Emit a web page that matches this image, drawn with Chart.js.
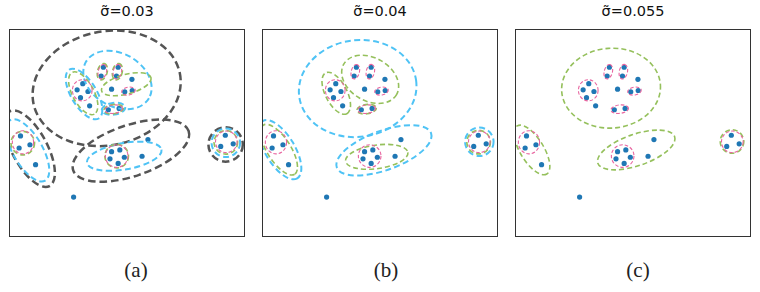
<!DOCTYPE html>
<html>
<head>
<meta charset="utf-8">
<script src="https://cdn.jsdelivr.net/npm/chart.js@4"></script>
<style>
  body { margin: 0; width: 760px; height: 292px; background: #fff; position: relative; overflow: hidden; }
  canvas { position: absolute; top: 25px; }
  .title { position: absolute; top: 3px; width: 240px; text-align: center; font-family: "DejaVu Sans"; font-size: 14.5px; line-height: 17px; color: #111; }
  .cap { position: absolute; top: 258px; width: 80px; text-align: center; font-family: "Liberation Serif"; font-size: 21px; line-height: 24px; color: #222; }
</style>
</head>
<body>
<canvas id="p0" width="244" height="216" style="left:5px"></canvas>
<canvas id="p1" width="244" height="216" style="left:258px"></canvas>
<canvas id="p2" width="244" height="216" style="left:511px"></canvas>
<div class="title" style="left:7px" id="t0"></div>
<div class="title" style="left:260px" id="t1"></div>
<div class="title" style="left:513px" id="t2"></div>
<div class="cap" style="left:96px" id="c0"></div>
<div class="cap" style="left:346px" id="c1"></div>
<div class="cap" style="left:598px" id="c2"></div>
<script>
// the same points in every panel
var pointsX = [9.6, 9.37, 11.1, 10.93, 12.5, 10.43, 11.77, 12.53, 10.1, 11.2,
               7.5, 6.93, 8.03, 7.27, 8.2, 1.17, 1.03, 2.13, 2.7,
               10.43, 11.27, 10.27, 11.73, 11.1, 13.53, 14.13, 22.0, 21.53, 22.8, 6.57];
var pointsY = [17.3, 16.4, 17.3, 16.4, 16.07, 15.07, 14.8, 14.93, 12.97, 13.1,
               15.63, 15.0, 14.83, 14.2, 13.37, 10.3, 9.07, 9.4, 7.37,
               8.7, 8.87, 7.97, 8.13, 7.5, 8.23, 9.93, 10.37, 9.23, 9.5, 4.07];

var sigmas = ['0.03', '0.04', '0.055'];
var captions = ['(a)', '(b)', '(c)'];

// ellipses: [cx, cy, semi-axis a, semi-axis b, angle deg]
var pinkAll = [
  [7.45, 14.95, 1.0, 1.08, 0],
  [9.49, 16.85, 0.75, 0.42, 76],
  [11.02, 16.85, 0.75, 0.42, 78],
  [12.15, 14.87, 0.7, 0.4, 10],
  [10.65, 13.03, 0.9, 0.43, 7],
  [1.42, 9.65, 1.08, 1.18, 0],
  [10.95, 8.25, 1.15, 1.15, 0],
  [22.1, 9.7, 1.1, 1.1, 0]
];
var greenA = [
  [9.49, 16.85, 0.85, 0.5, 76],
  [11.02, 16.85, 0.85, 0.5, 78],
  [7.55, 14.65, 2.4, 1.1, -62],
  [11.93, 15.57, 2.6, 1.0, 15],
  [10.63, 13.03, 1.0, 0.47, 8],
  [1.4, 9.57, 1.2, 1.2, 0],
  [10.95, 8.25, 1.2, 1.2, 0],
  [22.05, 9.65, 1.2, 1.2, 0]
];
var blueA = [
  [11.03, 16.0, 3.7, 2.7, -30],
  [7.63, 14.57, 2.9, 1.3, -59],
  [10.63, 13.07, 1.2, 0.6, 8],
  [1.9, 8.83, 3.55, 1.5, -60],
  [11.72, 8.23, 3.85, 1.35, 10],
  [22.05, 9.6, 1.45, 1.45, 0]
];
var grayA = [
  [9.93, 15.15, 7.6, 5.8, 12],
  [12.4, 8.8, 6.2, 2.6, 18.8],
  [2.1, 9.0, 4.3, 1.8, -62],
  [22.03, 9.43, 1.75, 1.75, 0]
];
var greenB = [
  [7.55, 14.65, 2.34, 1.1, -62.6],
  [11.0, 16.07, 3.1, 2.2, -30],
  [10.63, 13.03, 1.0, 0.47, 8],
  [1.73, 8.9, 2.96, 1.2, -57.6],
  [11.67, 8.17, 3.2, 1.2, 8],
  [22.03, 9.67, 1.2, 1.2, 0]
];
var blueB = [
  [9.73, 15.13, 6.0, 4.93, 8],
  [12.4, 8.83, 5.1, 2.0, 20],
  [1.83, 8.9, 3.4, 1.5, -59],
  [22.1, 9.7, 1.45, 1.45, 0]
];
var greenC = [
  [9.77, 15.17, 5.03, 4.07, 4],
  [1.73, 8.87, 2.87, 1.2, -58.5],
  [12.33, 8.87, 4.13, 1.6, 19],
  [22.07, 9.73, 1.2, 1.2, 0]
];

var styles = {
  gray:  { color: '#555555', width: 2.5, dash: [7.5, 4] },
  blue:  { color: '#4fc3f5', width: 2.0, dash: [6, 3.5] },
  green: { color: '#95c05c', width: 1.6, dash: [5, 3] },
  pink:  { color: '#e8649f', width: 1.1, dash: [3.5, 2] }
};

var panels = [
  [['gray', grayA], ['blue', blueA], ['green', greenA], ['pink', pinkAll]],
  [['blue', blueB], ['green', greenB], ['pink', pinkAll]],
  [['green', greenC], ['pink', pinkAll]]
];

var ellipsePlugin = {
  id: 'ellipses',
  afterDatasetsDraw: function(chart, args, opts) {
    var ctx = chart.ctx, area = chart.chartArea;
    var xs = chart.scales.x, ys = chart.scales.y;
    ctx.save();
    ctx.beginPath();
    ctx.rect(area.left, area.top, area.width, area.height);
    ctx.clip();
    opts.layers.forEach(function(layer) {
      var st = styles[layer[0]];
      ctx.strokeStyle = st.color;
      ctx.lineWidth = st.width;
      ctx.setLineDash(st.dash);
      layer[1].forEach(function(e) {
        var px = xs.getPixelForValue(e[0]), py = ys.getPixelForValue(e[1]);
        var rx = Math.abs(xs.getPixelForValue(e[0] + e[2]) - px);
        var ry = Math.abs(ys.getPixelForValue(e[1] + e[3]) - py);
        ctx.beginPath();
        ctx.ellipse(px, py, rx, ry, -e[4] * Math.PI / 180, 0, 2 * Math.PI);
        ctx.stroke();
      });
    });
    ctx.restore();
  },
  afterDraw: function(chart) {
    var ctx = chart.ctx, a = chart.chartArea;
    ctx.save();
    ctx.strokeStyle = '#333';
    ctx.lineWidth = 1;
    ctx.strokeRect(Math.round(a.left) + 0.5, Math.round(a.top) + 0.5, Math.round(a.width) - 1, Math.round(a.height) - 1);
    ctx.restore();
  }
};

var pts = pointsX.map(function(x, i) { return { x: x, y: pointsY[i] }; });

for (var i = 0; i < 3; i++) {
  document.getElementById('t' + i).textContent = '\u03C3\u0303=' + sigmas[i];
  document.getElementById('c' + i).textContent = captions[i];
  new Chart(document.getElementById('p' + i).getContext('2d'), {
    type: 'scatter',
    data: {
      datasets: [{
        data: pts,
        backgroundColor: '#1f77b4',
        borderWidth: 0,
        pointRadius: 2.6
      }]
    },
    options: {
      responsive: false,
      animation: false,
      layout: { padding: 2 },
      plugins: {
        legend: { display: false },
        tooltip: { enabled: false },
        ellipses: { layers: panels[i] }
      },
      scales: {
        x: { type: 'linear', min: 0, max: 24, display: false },
        y: { type: 'linear', min: 0, max: 21.2, display: false }
      }
    },
    plugins: [ellipsePlugin]
  });
}
</script>
</body>
</html>
